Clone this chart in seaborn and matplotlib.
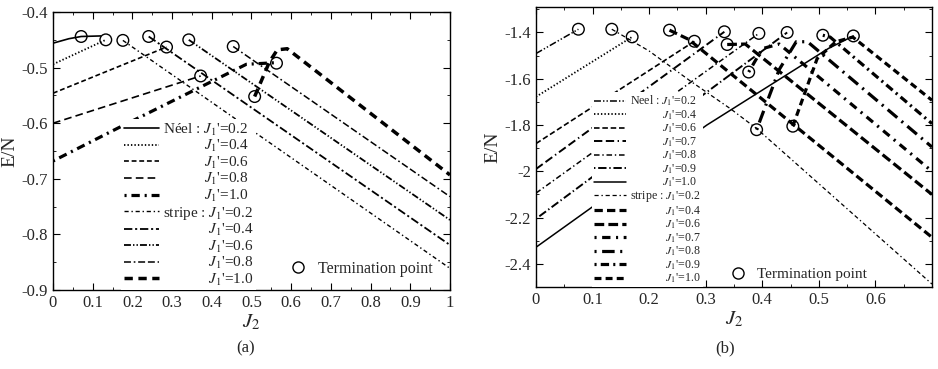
import matplotlib
matplotlib.use('Agg')
import matplotlib.pyplot as plt
import seaborn as sns
from matplotlib.ticker import MultipleLocator, FormatStrFormatter
from matplotlib.lines import Line2D

sns.set_style("ticks")
plt.rcParams['font.family'] = ['Liberation Serif', 'DejaVu Serif']
plt.rcParams['mathtext.fontset'] = 'stix'
plt.rcParams['axes.unicode_minus'] = False
plt.rcParams['lines.scale_dashes'] = False

# ---- panel (a) ----
a_j1 = ["0.2", "0.4", "0.6", "0.8", "1.0"]
a_neel_x = [[0.0, 0.04, 0.071, 0.12],
            [0.0, 0.133],
            [0.0, 0.286],
            [0.0, 0.372],
            [0.0, 0.16, 0.487, 0.563]]
a_neel_y = [[-0.456, -0.448, -0.444, -0.443],
            [-0.494, -0.450],
            [-0.546, -0.463],
            [-0.600, -0.515],
            [-0.668, -0.610, -0.494, -0.491]]
a_stripe_x = [[0.176, 1.0],
              [0.241, 1.0],
              [0.342, 1.0],
              [0.454, 1.0],
              [0.508, 0.545, 0.565, 0.59, 1.0]]
a_stripe_y = [[-0.451, -0.861],
              [-0.444, -0.819],
              [-0.450, -0.774],
              [-0.462, -0.732],
              [-0.552, -0.490, -0.468, -0.466, -0.693]]
a_term_x = [0.071, 0.133, 0.176, 0.241, 0.286, 0.342, 0.372, 0.454, 0.508, 0.563]
a_term_y = [-0.444, -0.450, -0.451, -0.444, -0.463, -0.450, -0.515, -0.462, -0.552, -0.492]

# ---- panel (b) ----
b_j1 = ["0.2", "0.4", "0.6", "0.7", "0.8", "0.9", "1.0"]
b_neel_x = [[0.0, 0.075],
            [0.0, 0.170],
            [0.0, 0.280],
            [0.0, 0.333],
            [0.0, 0.394],
            [0.0, 0.444],
            [0.0, 0.302, 0.517, 0.561]]
b_neel_y = [[-1.491, -1.386],
            [-1.678, -1.419],
            [-1.880, -1.438],
            [-1.990, -1.397],
            [-2.094, -1.404],
            [-2.205, -1.400],
            [-2.328, -1.800, -1.469, -1.415]]
b_stripe_x = [[0.134, 0.2, 0.273, 0.344, 0.39, 0.7],
              [0.236, 0.27, 0.7],
              [0.338, 0.37, 0.7],
              [0.376, 0.40, 0.43, 0.7],
              [0.39, 0.43, 0.46, 0.48, 0.7],
              [0.507, 0.52, 0.7],
              [0.454, 0.497, 0.53, 0.56, 0.7]]
b_stripe_y = [[-1.386, -1.48, -1.61, -1.73, -1.815, -2.487],
              [-1.390, -1.43, -2.285],
              [-1.452, -1.45, -2.100],
              [-1.571, -1.47, -1.45, -2.000],
              [-1.820, -1.56, -1.44, -1.44, -1.895],
              [-1.412, -1.42, -1.794],
              [-1.805, -1.513, -1.44, -1.42, -1.693]]
b_term_x = [0.075, 0.134, 0.170, 0.236, 0.280, 0.333, 0.338, 0.376, 0.394, 0.390, 0.444, 0.454, 0.507, 0.561]
b_term_y = [-1.386, -1.386, -1.419, -1.390, -1.438, -1.397, -1.452, -1.571, -1.404, -1.820, -1.400, -1.805, -1.412, -1.415]

a_neel_sty = [('-', 1.2), ((0, (1, 1.5)), 1.3), ((0, (3.5, 2)), 1.2), ((0, (5.5, 3)), 1.2),
              ((0, (1.5, 3.5, 6, 3.5)), 2.3)]
a_stripe_sty = [((0, (3, 2, 1, 2)), 1.0), ((0, (6, 2, 1.5, 2)), 1.3), ((0, (5, 1.5, 1, 1.5, 1, 1.5)), 1.3),
                ((0, (5, 2, 1.2, 2, 5, 2)), 1.1), ((0, (6, 4)), 2.5)]
b_neel_sty = [((0, (5, 1.5, 1, 1.5, 1, 1.5)), 1.1), ((0, (1, 1.5)), 1.3), ((0, (4, 2)), 1.2),
              ((0, (6, 2.5, 6, 2.5, 1, 2.5)), 1.4), ((0, (4, 2, 1, 2)), 1.1), ((0, (1, 2, 6, 2)), 1.4),
              ('-', 1.1)]
b_stripe_sty = [((0, (3, 2, 1, 2, 3, 2)), 0.9), ((0, (6, 3)), 2.3), ((0, (7, 3)), 2.3),
                ((0, (1.5, 4, 6, 4)), 2.3), ((0, (1.5, 4, 9, 4)), 2.3), ((0, (1.5, 3, 6, 3)), 2.3),
                ((0, (5, 3)), 2.3)]

PAD_NEEL = "\u2003\u2003\u2002\u2009"
PAD_STRIPE = "\u2003\u2003\u2003"


def draw_panel(ax, j1, nx, ny, sx, sy, tx, ty, nsty, ssty, neel_word):
    handles = []
    labels = []
    for i, v in enumerate(j1):
        ls, lw = nsty[i]
        sns.lineplot(x=nx[i], y=ny[i], ax=ax, color='k', linestyle=ls, linewidth=lw,
                     sort=False, estimator=None, legend=False)
        handles.append(Line2D([], [], color='k', linestyle=ls, linewidth=lw))
        pre = neel_word + " : " if i == 0 else PAD_NEEL
        labels.append(pre + "$J_1$'=" + v)
    for i, v in enumerate(j1):
        ls, lw = ssty[i]
        sns.lineplot(x=sx[i], y=sy[i], ax=ax, color='k', linestyle=ls, linewidth=lw,
                     sort=False, estimator=None, legend=False)
        handles.append(Line2D([], [], color='k', linestyle=ls, linewidth=lw))
        pre = "stripe : " if i == 0 else PAD_STRIPE
        labels.append(pre + "$J_1$'=" + v)
    sns.scatterplot(x=tx, y=ty, ax=ax, s=70, facecolor='none', edgecolor='k', linewidth=1.0,
                    zorder=5, legend=False)
    return handles, labels


def style_axes(ax):
    ax.tick_params(which='both', direction='in', top=True, right=True, labelsize=12, color='k')
    ax.tick_params(which='major', length=5)
    ax.tick_params(which='minor', length=2.5)
    for s in ax.spines.values():
        s.set_linewidth(1.0)
        s.set_color('k')
    ax.set_xlabel("$J_2$", fontsize=15, labelpad=1)
    ax.set_ylabel("E/N", fontsize=14, labelpad=2)


fig = plt.figure(figsize=(9.38, 3.69), dpi=100)
ax1 = fig.add_axes([0.0565, 0.214, 0.4232, 0.7534])
ax2 = fig.add_axes([0.5714, 0.222, 0.4222, 0.759])

term = Line2D([], [], linestyle='none', marker='o', markersize=8, markerfacecolor='none',
              markeredgecolor='k')

h, l = draw_panel(ax1, a_j1, a_neel_x, a_neel_y, a_stripe_x, a_stripe_y, a_term_x, a_term_y,
                  a_neel_sty, a_stripe_sty, "Néel")
ax1.set_xlim(0, 1)
ax1.set_ylim(-0.9, -0.4)
ax1.xaxis.set_major_locator(MultipleLocator(0.1))
ax1.xaxis.set_minor_locator(MultipleLocator(0.05))
ax1.yaxis.set_major_locator(MultipleLocator(0.1))
ax1.yaxis.set_minor_locator(MultipleLocator(0.05))
ax1.xaxis.set_major_formatter(FormatStrFormatter('%g'))
ax1.yaxis.set_major_formatter(FormatStrFormatter('%g'))
style_axes(ax1)
leg = ax1.legend(h, l, loc='lower left', bbox_to_anchor=(0.172, 0.0), borderaxespad=0,
                 fontsize=11, handlelength=2.3, handletextpad=0.3, labelspacing=0.03,
                 borderpad=0.15, frameon=True, framealpha=1, edgecolor='none', fancybox=False)
ax1.add_artist(leg)
ax1.legend([term], ["Termination point"], loc='lower left', bbox_to_anchor=(0.56, 0.025),
           borderaxespad=0, fontsize=11.5, frameon=False, handletextpad=0.3)

h, l = draw_panel(ax2, b_j1, b_neel_x, b_neel_y, b_stripe_x, b_stripe_y, b_term_x, b_term_y,
                  b_neel_sty, b_stripe_sty, "Neel")
ax2.set_xlim(0, 0.7)
ax2.set_ylim(-2.5, -1.29)
ax2.set_xticks([0, 0.1, 0.2, 0.3, 0.4, 0.5, 0.6])
ax2.xaxis.set_minor_locator(MultipleLocator(0.05))
ax2.yaxis.set_major_locator(MultipleLocator(0.2))
ax2.yaxis.set_minor_locator(MultipleLocator(0.1))
ax2.xaxis.set_major_formatter(FormatStrFormatter('%g'))
ax2.yaxis.set_major_formatter(FormatStrFormatter('%g'))
style_axes(ax2)
leg = ax2.legend(h, l, loc='lower left', bbox_to_anchor=(0.142, 0.0), borderaxespad=0,
                 fontsize=8.6, handlelength=2.7, handletextpad=0.3, labelspacing=0.0,
                 borderpad=0.15, frameon=True, framealpha=1, edgecolor='none', fancybox=False)
ax2.add_artist(leg)
ax2.legend([term], ["Termination point"], loc='lower left', bbox_to_anchor=(0.455, 0.0),
           borderaxespad=0, fontsize=11, frameon=False, handletextpad=0.3)

fig.text(0.262, 0.045, "(a)", fontsize=12, ha='center')
fig.text(0.773, 0.045, "(b)", fontsize=12, ha='center')

fig.savefig("out.png", dpi=100)
